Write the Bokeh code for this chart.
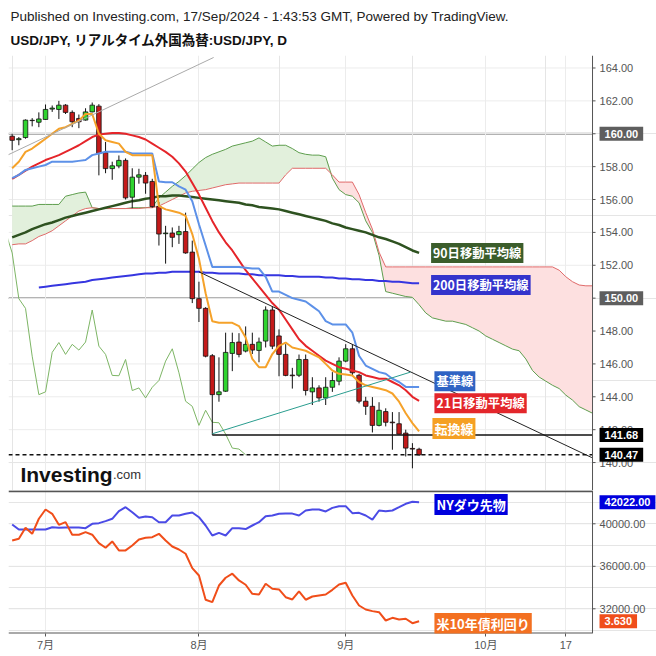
import numpy as np
import pandas as pd
from bokeh.plotting import figure
from bokeh.models import (Range1d, FixedTicker, Grid, Span, Label, Title, ColumnDataSource)
from bokeh.core.properties import value
from bokeh.layouts import column
from bokeh.embed import file_html
from bokeh.resources import INLINE

# ---------------- data ----------------
session_dates = pd.bdate_range("2024-06-24", "2024-10-31")
month_tick_dates = ["2024-07-01", "2024-08-01", "2024-09-02", "2024-10-01", "2024-10-17"]
month_tick_labels = ["7月", "8月", "9月", "10月", "17"]

opens = [159.85, 159.64, 159.77, 160.82, 160.70, 160.87, 161.50, 161.48, 161.74, 161.30,
         160.93, 160.83, 161.33, 161.68, 158.85, 157.88, 158.04, 158.38, 156.14, 157.36,
         157.47, 157.10, 155.57, 153.92, 153.96, 153.86, 154.05, 152.80, 149.97, 149.38,
         146.50, 144.13, 144.34, 146.64, 147.33, 146.78, 147.19, 146.82, 147.39, 149.28,
         147.70, 146.58, 145.32, 145.31, 146.27, 144.30, 144.54, 143.93, 144.58, 144.95,
         146.17, 146.92, 145.31, 143.73, 143.42, 142.26, 143.10, 142.46, 142.36, 141.79,
         140.86, 140.81]
highs = [160.00, 159.80, 160.87, 160.95, 161.30, 161.78, 161.72, 162.00, 161.80, 161.42,
         161.17, 161.55, 161.90, 161.80, 159.50, 158.30, 158.68, 158.50, 157.90, 157.87,
         157.67, 157.26, 155.84, 154.40, 154.30, 154.40, 155.20, 153.50, 151.00, 149.45,
         146.60, 146.40, 147.90, 147.90, 147.87, 148.28, 147.90, 147.60, 149.50, 149.50,
         148.10, 147.20, 145.76, 146.57, 146.57, 145.19, 144.70, 145.19, 145.50, 146.40,
         147.20, 147.20, 145.40, 144.00, 143.98, 143.67, 143.30, 143.07, 143.07, 142.00,
         141.18, 140.90]
lows = [159.00, 159.30, 159.70, 160.45, 160.40, 160.85, 161.33, 160.90, 161.20, 160.40,
        160.34, 160.80, 161.30, 157.47, 157.60, 157.20, 157.90, 156.00, 155.47, 156.96,
        156.35, 155.50, 153.20, 152.10, 153.10, 153.30, 152.70, 149.70, 148.55, 146.40,
        141.68, 143.70, 144.30, 145.56, 146.40, 146.70, 146.60, 146.10, 147.00, 146.90,
        145.25, 145.25, 144.50, 145.20, 144.08, 143.50, 143.70, 143.50, 144.30, 144.70,
        146.10, 145.30, 143.60, 142.90, 141.83, 142.20, 142.20, 140.78, 141.70, 140.37,
        139.65, 140.40]
closes = [159.60, 159.70, 160.83, 160.80, 160.90, 161.48, 161.56, 161.74, 161.30, 160.73,
          160.73, 161.33, 161.74, 158.80, 157.88, 158.05, 158.38, 156.10, 157.36, 157.50,
          157.00, 155.57, 153.90, 153.96, 153.70, 154.05, 152.75, 149.97, 149.38, 146.47,
          144.13, 144.30, 146.70, 147.30, 146.58, 147.19, 146.84, 147.33, 149.28, 147.08,
          146.58, 145.30, 145.28, 146.27, 144.38, 144.54, 143.93, 144.58, 144.99, 146.17,
          146.92, 145.46, 143.73, 143.42, 142.26, 143.18, 142.45, 142.42, 141.73, 140.88,
          140.82, 140.47]

tenkan = [157.9, 158.3, 158.9, 159.1, 159.4, 159.7, 160.0, 160.3, 160.4, 160.6,
          160.8, 161.2, 161.2, 160.0, 159.6, 159.5, 159.4, 158.9, 158.7, 158.7,
          158.7, 158.7, 155.6, 155.4, 155.3, 155.2, 155.0, 153.9, 152.4, 150.3,
          148.6, 148.5, 148.5, 148.5, 148.3, 147.6, 146.3, 145.8, 145.8, 146.6,
          147.1, 147.3, 147.0, 146.9, 146.8, 146.6, 146.4, 146.0, 145.6, 145.4,
          145.35, 145.3, 144.9, 144.7, 144.6, 144.5, 144.4, 144.2, 143.7, 143.0,
          142.4, 141.9]
kijun = [157.3, 157.5, 157.8, 157.9, 158.0, 158.1, 158.3, 158.3, 158.3, 158.3,
         158.35, 158.4, 158.7, 158.8, 158.9, 158.9, 158.9, 158.9, 158.8, 158.8,
         158.8, 158.8, 157.1, 157.05, 157.05, 156.8, 156.6, 155.9, 154.5, 153.2,
         151.9, 151.9, 151.9, 151.9, 151.9, 151.85, 151.8, 151.8, 151.3, 150.4,
         150.4, 150.2, 150.0, 149.9, 149.8, 149.5, 149.2, 148.6, 148.4, 148.4,
         148.4, 147.9, 146.5, 145.9, 145.7, 145.5, 145.4, 145.1, 144.9, 144.6,
         144.6, 144.6]
ma21 = [157.25, 157.5, 157.75, 158.0, 158.2, 158.4, 158.55, 158.7, 158.9, 159.1,
        159.3, 159.55, 159.8, 159.95, 160.0, 160.05, 160.05, 160.0, 159.9, 159.8,
        159.65, 159.4, 159.15, 158.9, 158.6, 158.2, 157.7, 157.0, 156.3, 155.5,
        154.7, 154.0, 153.4, 152.9, 152.3, 151.7, 151.2, 150.7, 150.2, 149.7,
        149.3, 148.7, 148.1, 147.5, 147.1, 146.8, 146.5, 146.2, 146.0, 145.8,
        145.7, 145.6, 145.5, 145.3, 145.2, 145.1, 145.1, 144.9, 144.7, 144.4,
        144.0, 143.75]
ma90 = [153.7, 153.85, 154.0, 154.2, 154.35, 154.5, 154.6, 154.75, 154.9, 155.0,
        155.1, 155.2, 155.3, 155.4, 155.5, 155.6, 155.7, 155.8, 155.9, 155.95,
        156.05, 156.1, 156.2, 156.2, 156.25, 156.25, 156.2, 156.15, 156.1, 156.05,
        156.0, 155.95, 155.9, 155.85, 155.8, 155.7, 155.65, 155.55, 155.5, 155.45,
        155.4, 155.3, 155.2, 155.1, 155.0, 154.9, 154.8, 154.7, 154.55, 154.45,
        154.3, 154.2, 154.1, 154.0, 153.85, 153.7, 153.6, 153.45, 153.3, 153.1,
        152.9, 152.75]
ma200_start = 4
ma200 = [150.65, 150.7, 150.75, 150.8, 150.85, 150.9, 150.95, 151.0, 151.1, 151.15,
         151.2, 151.25, 151.3, 151.35, 151.4, 151.45, 151.5, 151.5, 151.55, 151.55,
         151.6, 151.6, 151.6, 151.6, 151.6, 151.55, 151.55, 151.5, 151.5, 151.5,
         151.5, 151.45, 151.45, 151.4, 151.4, 151.4, 151.4, 151.35, 151.35, 151.3,
         151.3, 151.3, 151.3, 151.25, 151.25, 151.2, 151.2, 151.15, 151.15, 151.1,
         151.1, 151.05, 151.05, 151.0, 151.0, 150.95, 150.9, 150.9]
span_a = [155.6, 155.6, 155.6, 155.6, 155.7, 155.7, 155.7, 155.7, 156.2, 156.3,
          156.4, 156.45, 155.5, 155.45, 155.45, 155.45, 155.45, 155.45, 155.5, 155.5,
          155.5, 155.55, 156.1, 156.45, 156.8, 157.1, 157.45, 157.85, 158.25, 158.55,
          158.75, 158.9, 159.05, 159.25, 159.35, 159.45, 159.55, 159.75, 159.5, 159.25,
          159.3, 159.3, 159.1, 158.85, 158.75, 158.7, 158.7, 158.6, 157.3, 156.6,
          156.3, 156.2, 155.8, 154.7, 154.0, 152.6, 150.4, 150.3, 150.2, 150.1,
          150.05, 149.6, 149.1, 148.8, 148.7, 148.6, 148.6, 148.5, 148.4, 148.2,
          148.0, 147.7, 147.5, 147.3, 147.1, 146.9, 146.8, 146.3, 145.6, 145.2,
          144.95, 144.7, 144.5, 144.1, 143.8, 143.4, 143.2, 143.0]
span_b = [153.25, 153.3, 153.3, 153.5, 153.75, 153.9, 154.1, 154.4, 154.7, 155.0,
          155.3, 155.45, 155.5, 155.45, 155.45, 155.45, 155.45, 155.45, 155.45, 155.45,
          155.5, 155.5, 155.6, 155.8, 156.0, 156.2, 156.4, 156.5, 156.55, 156.6,
          156.7, 156.8, 156.9, 156.95, 157.0, 157.0, 157.0, 157.0, 157.0, 157.0,
          157.0, 157.5, 157.9, 157.9, 157.9, 157.9, 157.9, 157.9, 157.5, 157.06,
          157.06, 157.06, 156.3, 155.2, 154.2, 152.8, 151.9, 151.9, 151.9, 151.9,
          151.9, 151.9, 151.9, 151.9, 151.9, 151.9, 151.9, 151.9, 151.9, 151.9,
          151.9, 151.9, 151.9, 151.9, 151.9, 151.9, 151.9, 151.9, 151.9, 151.9,
          151.9, 151.9, 151.7, 151.3, 151.0, 150.8, 150.75, 150.75]
chikou_shift = 26

dow = [39934, 39464, 39464, 39464, 39464, 39464, 39680, 39620, 39650, 39650,
       39650, 39590, 40000, 40060, 40250, 40470, 41190, 41560, 41090, 40560,
       40690, 40620, 40150, 40150, 40780, 40780, 40940, 41060, 40620, 39840,
       38900, 39150, 38900, 39590, 39590, 39500, 39840, 40150, 40720, 40780,
       40940, 40960, 40960, 40780, 41250, 41340, 41340, 41160, 41500, 41660,
       41660, 41000, 41030, 40780, 40400, 41250, 41190, 41250, 41560, 41880,
       42070, 42022]
us10y = [4.232, 4.245, 4.327, 4.282, 4.394, 4.463, 4.431, 4.349, 4.369, 4.275,
         4.275, 4.294, 4.275, 4.212, 4.178, 4.225, 4.158, 4.158, 4.195, 4.240,
         4.252, 4.257, 4.282, 4.232, 4.187, 4.165, 4.133, 4.026, 3.971, 3.790,
         3.772, 3.896, 3.954, 3.984, 3.934, 3.902, 3.834, 3.829, 3.909, 3.872,
         3.867, 3.809, 3.792, 3.852, 3.790, 3.814, 3.822, 3.829, 3.864, 3.904,
         3.917, 3.822, 3.747, 3.717, 3.705, 3.697, 3.635, 3.655, 3.643, 3.648,
         3.615, 3.630]

# drawn trend lines (anchor points: bar index, price)
upper_trend_x = [28, 86.9]
upper_trend_y = [151.6, 140.3]
lower_trend_x = [30, 59.7]
lower_trend_y = [141.75, 145.5]
old_trend_x = [-0.6, 30.2]
old_trend_y = [158.72, 164.64]
support_bar = 30
price_levels = [160.0, 150.0]

price_ticks = list(range(140, 165, 2))
dow_ticks = [32000, 36000, 40000]

# ---------------- layout constants ----------------
FONT = "Liberation Sans, Noto Sans CJK JP"
JFONT = "Noto Sans CJK JP"
X0, X_AXIS, X_END = -0.55, 87.0, 96.59     # frame start, price-axis line, frame end
TICK_LEN = 0.45
TICK_LABEL_X = 88.05
BOX_X = 88.05

n = len(closes)
idx = np.arange(n)
month_ticks = [int(session_dates.get_loc(pd.Timestamp(d))) for d in month_tick_dates]
x_rng = Range1d(X0, X_END)


def right_axis(fig, ticks, fmt, yr="default"):
    ticks = list(ticks)
    fig.add_layout(Span(location=X_AXIS, dimension="height", line_color="#555555",
                        line_width=1))
    fig.segment(x0=[X0] * len(ticks), x1=[X_AXIS] * len(ticks), y0=ticks, y1=ticks,
                line_color="#ececec", line_width=1, level="underlay", y_range_name=yr)
    fig.segment(x0=[X_AXIS] * len(ticks), x1=[X_AXIS + TICK_LEN] * len(ticks), y0=ticks,
                y1=ticks, line_color="#555555", line_width=1, y_range_name=yr)
    fig.text(x=[TICK_LABEL_X] * len(ticks), y=ticks, text=[fmt.format(t) for t in ticks],
             text_font=value("Liberation Sans"), text_font_size="11px",
             text_color="#555555", text_baseline="middle", text_align="left",
             y_range_name=yr)


def box(fig, text, x, y, bg, size="11px", yr="default", font="Liberation Sans",
        pad=(5, 3)):
    fig.add_layout(Label(x=x, y=y, y_range_name=yr, text=text,
                         text_font=font, text_font_size=size, text_font_style="bold",
                         text_color="white", text_baseline="middle", text_align="left",
                         background_fill_color=bg, padding=pad))


# ---------------- main panel ----------------
p = figure(width=656, height=490, x_range=x_rng, y_range=Range1d(138.30, 164.76),
           x_axis_location=None, y_axis_location=None, toolbar_location=None,
           output_backend="svg", min_border_left=8, min_border_right=0,
           min_border_top=55, min_border_bottom=0, outline_line_color=None)

p.add_layout(Title(text="USD/JPY, リアルタイム外国為替:USD/JPY, D", text_font=FONT,
                   text_font_size="13.5px", text_font_style="bold", text_color="#111111",
                   align="left", offset=2, standoff=15), "above")
p.add_layout(Title(text="Published on Investing.com, 17/Sep/2024 - 1:43:53 GMT, Powered by TradingView.",
                   text_font=FONT, text_font_size="13.5px", text_font_style="normal",
                   text_color="#222222", align="left", offset=2, standoff=0), "above")

p.add_layout(Grid(dimension=0, ticker=FixedTicker(ticks=month_ticks),
                  grid_line_color="#ececec"))
right_axis(p, price_ticks, "{:.2f}")

# price levels
for lv, col, w in zip(price_levels, ["#9a9a9a", "#707070"], [2, 1.5]):
    p.segment(x0=[X0], x1=[X_AXIS], y0=[lv], y1=[lv], line_color=col, line_width=w,
              level="underlay")

# Ichimoku cloud
a = np.array(span_a)
b = np.array(span_b)
cx = np.arange(len(a))
top = np.maximum(a, b)
p.varea(x=cx, y1=b, y2=top, fill_color="#e2f0dc")
p.varea(x=cx, y1=a, y2=top, fill_color="#fde0e0")
p.line(cx, a, line_color="#5e9e4e", line_width=1)
p.line(cx, b, line_color="#e06a6a", line_width=1)

# chikou span
ck = np.array(closes)
p.line(idx[chikou_shift - 1:] - chikou_shift, ck[chikou_shift - 1:],
       line_color="#7db565", line_width=1)

# moving averages
p.line(idx, ma90, line_color="#2e5220", line_width=2.5)
p.line(idx[ma200_start:], ma200, line_color="#3636e0", line_width=2)

# candles
o = np.array(opens); c = np.array(closes)
src = ColumnDataSource(dict(
    x=idx, h=highs, l=lows,
    top=np.maximum(o, c), bottom=np.minimum(o, c),
    color=["#2fd42f" if cc >= oo else "#c41a1a" for oo, cc in zip(opens, closes)]))
p.segment(x0="x", y0="h", x1="x", y1="l", source=src, line_color="#111111", line_width=1)
p.vbar(x="x", width=0.68, top="top", bottom="bottom", fill_color="color",
       line_color="#111111", line_width=0.8, source=src)

p.line(idx, ma21, line_color="#e5252a", line_width=2)
p.line(idx, kijun, line_color="#5d91e8", line_width=2)
p.line(idx, tenkan, line_color="#f5a22a", line_width=2)

# trend lines
p.line(old_trend_x, old_trend_y, line_color="#aaaaaa", line_width=1)
p.line(upper_trend_x, upper_trend_y, line_color="#222222", line_width=1)
p.line(lower_trend_x, lower_trend_y, line_color="#2a9d8f", line_width=1)
p.segment(x0=[support_bar], y0=[lows[support_bar]], x1=[X_AXIS],
          y1=[lows[support_bar]], line_color="#111111", line_width=1.5)
p.segment(x0=[X0], y0=[closes[-1]], x1=[X_AXIS], y1=[closes[-1]], line_color="#111111",
          line_width=1.5, line_dash="4 3")

# line name labels
box(p, "90日移動平均線", 62.8, ma90[-1], "#3b5d2b", "12.3px", font=JFONT, pad=(2, 1))
box(p, "200日移動平均線", 62.8, ma200[-1] - 0.1, "#3434cc", "12.3px", font=JFONT, pad=(2, 1))
box(p, "基準線", 63.3, kijun[-1] + 0.35, "#2f63c4", "12.3px", font=JFONT, pad=(2, 1))
box(p, "21日移動平均線", 63.3, ma21[-1] - 0.15, "#e3262b", "12.3px", font=JFONT, pad=(2, 1))
box(p, "転換線", 63.0, tenkan[-1] + 0.17, "#f5a023", "13px", font=JFONT, pad=(2, 1))

# axis value boxes
for lv in price_levels:
    box(p, f"{lv:.2f}", BOX_X, lv, "#5e5e5e")
box(p, f"{lows[support_bar]:.2f}", BOX_X, lows[support_bar], "#000000")
box(p, f"{closes[-1]:.2f}", BOX_X, closes[-1], "#000000")

# logo
p.add_layout(Label(x=1.24, y=139.28, text="Investing", text_font="Liberation Sans",
                   text_font_size="21px", text_font_style="bold", text_color="#111111",
                   text_baseline="alphabetic"))
p.add_layout(Label(x=15.1, y=139.28, text=".com", text_font="Liberation Sans",
                   text_font_size="13px", text_color="#333333", text_baseline="alphabetic"))

# ---------------- lower panel ----------------
dow_rng = Range1d(29675, 43134)
p2 = figure(width=656, height=166, x_range=x_rng, y_range=dow_rng,
            y_axis_location=None, toolbar_location=None, output_backend="svg",
            min_border_left=8, min_border_right=0, min_border_top=0,
            min_border_bottom=23, outline_line_color=None)
p2.extra_y_ranges = {"yield": Range1d(3.538, 4.605)}

p2.xgrid.ticker = FixedTicker(ticks=month_ticks)
p2.xgrid.grid_line_color = "#ececec"

xa = p2.xaxis[0]
xa.ticker = FixedTicker(ticks=month_ticks)
xa.major_label_overrides = {t: s for t, s in zip(month_ticks, month_tick_labels)}
xa.major_label_text_font = FONT
xa.major_label_text_font_size = "11px"
xa.major_label_text_color = "#555555"
xa.major_tick_out = 3
xa.major_tick_in = 0
xa.minor_tick_out = 0
xa.minor_tick_in = 0
xa.major_label_standoff = 2
xa.axis_line_color = None
xa.major_tick_line_color = "#555555"

right_axis(p2, dow_ticks, "{:.2f}")
# panel separator (top) and time axis line (bottom), ending at the price axis
p2.segment(x0=[X0, X0], x1=[X_AXIS, X_AXIS], y0=[dow_rng.end - 80, dow_rng.start],
           y1=[dow_rng.end - 80, dow_rng.start], line_color="#555555", line_width=2)

p2.line(idx, dow, line_color="#4b4be6", line_width=2)
p2.line(idx, us10y, line_color="#f04e1a", line_width=2, y_range_name="yield")

box(p2, "NYダウ先物", 63.3, dow[-1] - 200, "#0000dd", "13px", font=JFONT, pad=(2, 1))
box(p2, "米10年債利回り", 63.3, us10y[-1] - 0.017, "#f37021", "13px", yr="yield",
    font=JFONT, pad=(2, 1))
box(p2, f"{dow[-1]:.2f}", BOX_X, dow[-1], "#0000dd")
box(p2, f"{us10y[-1]:.3f}", BOX_X, us10y[-1], "#f04e1a", yr="yield")

layout = column(p, p2)
open("out.html", "w").write(file_html(layout, INLINE))
